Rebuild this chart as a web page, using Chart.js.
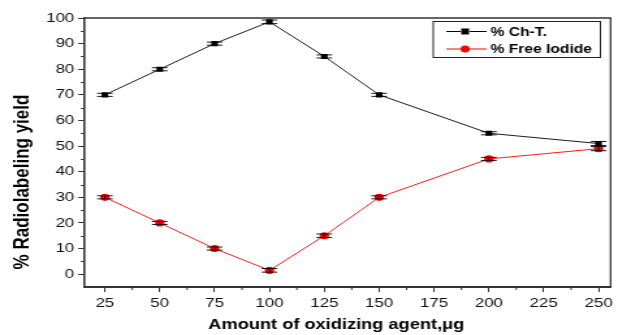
<!DOCTYPE html>
<html>
<head>
<meta charset="utf-8">
<script src="https://cdn.jsdelivr.net/npm/chart.js@4/dist/chart.umd.min.js"></script>
<style>
  html, body { margin: 0; padding: 0; background: #fff; overflow: hidden; }
  #yieldChart { display: block; }
</style>
</head>
<body>
<!-- the original figure is stretched sideways, so the canvas is drawn narrow and widened by css -->
<canvas id="yieldChart" width="475" height="335" style="width:618px;height:335px"></canvas>
<script>
const amounts = [25, 50, 75, 100, 125, 150, 200, 250];
const chT = [70, 80, 90, 98.5, 85, 70, 55, 51];
const freeIodide = [30, 20, 10, 1.5, 15, 30, 45, 49];
const chTErr = [0.6, 0.6, 0.6, 0.7, 0.6, 0.6, 0.6, 0.8];
const freeErr = [0.6, 0.6, 0.6, 0.7, 0.7, 0.6, 0.6, 0.8];
const xTicks = [25, 50, 75, 100, 125, 150, 175, 200, 225, 250];
const yTicks = [0, 10, 20, 30, 40, 50, 60, 70, 80, 90, 100];

const FONT = "'Liberation Sans', Arial, sans-serif";

function toPoints(xs, ys) {
  return xs.map((x, i) => ({ x: x, y: ys[i] }));
}

// error bars, minor ticks, frame, titles, legend
const extras = {
  id: "extras",
  afterDatasetsDraw(chart) {
    const ctx = chart.ctx;
    const xs = chart.scales.x;
    const ys = chart.scales.y;
    const errs = [chTErr, freeErr];
    ctx.save();
    chart.data.datasets.forEach((ds, di) => {
      ds.data.forEach((p, i) => {
        const px = xs.getPixelForValue(p.x);
        const top = ys.getPixelForValue(p.y + errs[di][i]);
        const bot = ys.getPixelForValue(p.y - errs[di][i]);
        ctx.strokeStyle = "#000";
        ctx.lineWidth = 0.9;
        ctx.beginPath();
        ctx.moveTo(px, top); ctx.lineTo(px, bot);
        ctx.moveTo(px - 6, top); ctx.lineTo(px + 6, top);
        ctx.moveTo(px - 6, bot); ctx.lineTo(px + 6, bot);
        ctx.stroke();
      });
    });
    ctx.restore();
  },
  afterDraw(chart) {
    const ctx = chart.ctx;
    const a = chart.chartArea;
    const xs = chart.scales.x;
    const ys = chart.scales.y;
    ctx.save();
    ctx.strokeStyle = "#333";
    // minor ticks
    ctx.lineWidth = 1;
    ctx.beginPath();
    for (let v = 5; v < 100; v += 10) {
      const py = Math.round(ys.getPixelForValue(v)) + 0.5;
      ctx.moveTo(a.left - 2.5, py); ctx.lineTo(a.left, py);
    }
    for (let v = 37.5; v < 255; v += 25) {
      const px = xs.getPixelForValue(v);
      ctx.moveTo(px, a.bottom); ctx.lineTo(px, a.bottom + 3);
    }
    ctx.stroke();
    // top and right frame
    ctx.lineWidth = 1.3;
    ctx.beginPath();
    ctx.moveTo(a.left, a.top); ctx.lineTo(a.right, a.top); ctx.lineTo(a.right, a.bottom);
    ctx.stroke();

    // axis titles
    ctx.fillStyle = "#000";
    ctx.textAlign = "center";
    ctx.textBaseline = "middle";
    ctx.font = "bold 14px " + FONT;
    ctx.fillText("Amount of oxidizing agent,μg", 258.5, 325);
    ctx.save();
    ctx.translate(17.5, 182);
    ctx.rotate(-Math.PI / 2);
    ctx.font = "bold 17px " + FONT;
    ctx.fillText("% Radiolabeling yield", 0, 0);
    ctx.restore();

    // legend box
    const lx = 333, ly = 21, lw = 128.5, lh = 36;
    ctx.fillStyle = "#fff";
    ctx.fillRect(lx, ly, lw, lh);
    ctx.strokeStyle = "#222";
    ctx.lineWidth = 1;
    ctx.strokeRect(lx, ly + 0.5, lw, lh);
    const items = [
      { label: "% Ch-T.", color: "#000", style: "rect", y: ly + 10.5 },
      { label: "% Free Iodide", color: "#ff0000", style: "circle", y: ly + 28 }
    ];
    items.forEach(it => {
      ctx.strokeStyle = it.color;
      ctx.lineWidth = 1;
      ctx.beginPath();
      ctx.moveTo(lx + 10, it.y); ctx.lineTo(lx + 21, it.y);
      ctx.moveTo(lx + 28, it.y); ctx.lineTo(lx + 41, it.y);
      ctx.stroke();
      ctx.fillStyle = it.color;
      if (it.style === "rect") {
        ctx.fillRect(lx + 21.5, it.y - 3, 6, 6);
      } else {
        ctx.beginPath();
        ctx.arc(lx + 24.5, it.y, 3.5, 0, Math.PI * 2);
        ctx.fill();
      }
      ctx.fillStyle = "#000";
      ctx.font = "bold 12px " + FONT;
      ctx.textBaseline = "middle";
      ctx.textAlign = "left";
      ctx.fillText(it.label, lx + 44, it.y + 1);
    });
    ctx.restore();
  }
};

new Chart(document.getElementById("yieldChart").getContext("2d"), {
  type: "line",
  data: {
    datasets: [
      {
        label: "% Ch-T.",
        data: toPoints(amounts, chT),
        borderColor: "#000",
        backgroundColor: "#000",
        borderWidth: 0.9,
        pointStyle: "rect",
        pointRadius: 3.6,
        pointBorderWidth: 0,
        tension: 0
      },
      {
        label: "% Free Iodide",
        data: toPoints(amounts, freeIodide),
        borderColor: "#ff0000",
        backgroundColor: "#ff0000",
        borderWidth: 0.9,
        pointStyle: "circle",
        pointRadius: 3.6,
        pointBorderWidth: 0,
        tension: 0
      }
    ]
  },
  options: {
    responsive: false,
    animation: false,
    devicePixelRatio: 1,
    layout: { padding: { top: 18, right: 2.3, left: 0, bottom: 0 } },
    plugins: {
      legend: { display: false },
      tooltip: { enabled: false }
    },
    scales: {
      x: {
        type: "linear",
        min: 15.5,
        max: 255.5,
        afterBuildTicks(scale) {
          scale.ticks = xTicks.map(v => ({ value: v }));
        },
        afterFit(scale) { scale.height = 48; },
        grid: { drawOnChartArea: false, tickLength: 5, color: "#333", tickWidth: 1 },
        border: { display: true, color: "#333", width: 2 },
        ticks: {
          color: "#111",
          font: { family: FONT, size: 13 },
          padding: 4,
          maxRotation: 0
        }
      },
      y: {
        type: "linear",
        min: -5,
        max: 100,
        afterBuildTicks(scale) {
          scale.ticks = yTicks.map(v => ({ value: v }));
        },
        afterFit(scale) { scale.width = 64.6; },
        grid: { drawOnChartArea: false, tickLength: 4.5, color: "#333", tickWidth: 1 },
        border: { display: true, color: "#333", width: 1.6 },
        ticks: {
          color: "#111",
          font: { family: FONT, size: 13 },
          padding: 3
        }
      }
    }
  },
  plugins: [extras]
});
</script>
</body>
</html>
